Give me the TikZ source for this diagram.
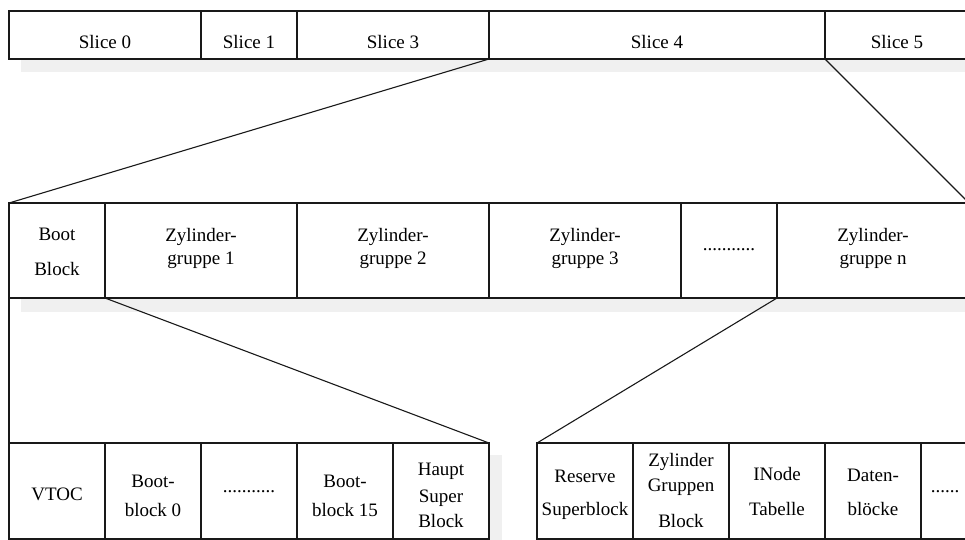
\documentclass[tikz,border=0pt]{standalone}
\usepackage{fontspec}
\setmainfont{Liberation Serif}
\usetikzlibrary{calc}

\definecolor{edge}{RGB}{25,25,25}
\definecolor{shade}{RGB}{240,240,240}

% a framed cell given by its left/right and top/bottom edges
\newcommand\cell[5]{%
  \node[cellbox, minimum width={(#3-#2)*1pt}, minimum height={(#5-#4)*1pt}]
    (#1) at ({(#2+#3)/2},{(#4+#5)/2}) {};}
% one line of text, its baseline #3 below the top edge of cell #2
\newcommand\ctext[4]{\node[lbl] (#1) at ($(#2.north)+(0,#3)$) {#4};}

\begin{document}
\begin{tikzpicture}[x=1pt, y=-1pt,
  cellbox/.style={draw=edge, line width=1.2pt, rectangle, inner sep=0pt, outer sep=0pt},
  lbl/.style={anchor=base, inner sep=0pt, font=\fontsize{19}{23}\selectfont},
  conn/.style={draw=edge, line width=1.1pt},
  shadow/.style={fill=shade}]

\useasboundingbox (0,0) rectangle (965,539);
\clip (0,0) rectangle (965,539);

% ---------- cells ----------
% disk slices
\cell{s0}{9}{201}{11}{59}
\cell{s1}{201}{297}{11}{59}
\cell{s3}{297}{489}{11}{59}
\cell{s4}{489}{825}{11}{59}
\cell{s5}{825}{969}{11}{59}
% slice 4 in detail
\cell{bb}{9}{105}{203}{298}
\cell{z1}{105}{297}{203}{298}
\cell{z2}{297}{489}{203}{298}
\cell{z3}{489}{681}{203}{298}
\cell{zd}{681}{777}{203}{298}
\cell{zn}{777}{969}{203}{298}
% boot block in detail
\cell{vt}{9}{105}{443}{539}
\cell{b0}{105}{201}{443}{539}
\cell{bd}{201}{297}{443}{539}
\cell{b15}{297}{393}{443}{539}
\cell{hs}{393}{489}{443}{539}
% cylinder group in detail
\cell{rs}{537}{633}{443}{539}
\cell{zg}{633}{729}{443}{539}
\cell{it}{729}{825}{443}{539}
\cell{db}{825}{921}{443}{539}
\cell{rd}{921}{969}{443}{539}

% ---------- drop shadows ----------
\fill[shadow] ($(s0.south west)+(12,0.6)$) rectangle ($(s5.south east)+(12,13)$);
\fill[shadow] ($(bb.south west)+(12,0.6)$) rectangle ($(zn.south east)+(12,14)$);
\fill[shadow] ($(hs.north east)+(0.6,12)$) rectangle ($(hs.south east)+(13,12)$);
\fill[shadow] ($(rd.north east)+(0.6,12)$) rectangle ($(rd.south east)+(13,12)$);

% redraw cell frames over the shadows
\foreach \c in {s0,s1,s3,s4,s5,bb,z1,z2,z3,zd,zn,vt,b0,bd,b15,hs,rs,zg,it,db,rd}
  \draw[draw=edge, line width=1.2pt] (\c.south west) rectangle (\c.north east);

% ---------- labels ----------
\ctext{s0a}{s0}{37}{Slice 0}
\ctext{s1a}{s1}{37}{Slice 1}
\ctext{s3a}{s3}{37}{Slice 3}
\ctext{s4a}{s4}{37}{Slice 4}
\ctext{s5a}{s5}{37}{Slice 5}

\ctext{bba}{bb}{37}{Boot}
\ctext{bbb}{bb}{72}{Block}
\ctext{z1a}{z1}{38}{Zylinder-}
\ctext{z1b}{z1}{61}{gruppe 1}
\ctext{z2a}{z2}{38}{Zylinder-}
\ctext{z2b}{z2}{61}{gruppe 2}
\ctext{z3a}{z3}{38}{Zylinder-}
\ctext{z3b}{z3}{61}{gruppe 3}
\ctext{zda}{zd}{47}{...........}
\ctext{zna}{zn}{38}{Zylinder-}
\ctext{znb}{zn}{61}{gruppe n}

\ctext{vta}{vt}{57}{VTOC}
\ctext{b0a}{b0}{44}{Boot-}
\ctext{b0b}{b0}{73}{block 0}
\ctext{bda}{bd}{49}{...........}
\ctext{b15a}{b15}{44}{Boot-}
\ctext{b15b}{b15}{73}{block 15}
\ctext{hsa}{hs}{32}{Haupt}
\ctext{hsb}{hs}{59}{Super}
\ctext{hsc}{hs}{84}{Block}

\ctext{rsa}{rs}{39}{Reserve}
\ctext{rsb}{rs}{72}{Superblock}
\ctext{zga}{zg}{23}{Zylinder}
\ctext{zgb}{zg}{48}{Gruppen}
\ctext{zgc}{zg}{84}{Block}
\ctext{ita}{it}{37}{INode}
\ctext{itb}{it}{72}{Tabelle}
\ctext{dba}{db}{38}{Daten-}
\ctext{dbb}{db}{72}{blöcke}
\ctext{rda}{rd}{49}{......}

% ---------- zoom connectors ----------
\draw[conn] (s3.south east) -- (bb.north west);
\draw[conn] (s4.south east) -- (zn.north east);
\draw[conn] (bb.south west) -- (vt.north west);
\draw[conn] (z1.south west) -- (hs.north east);
\draw[conn] (zn.south west) -- (rs.north west);

\end{tikzpicture}
\end{document}
